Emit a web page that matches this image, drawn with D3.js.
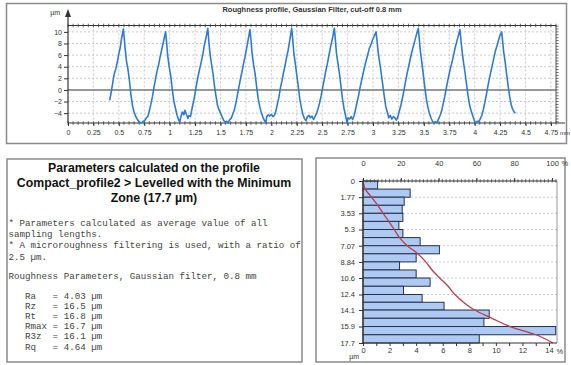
<!DOCTYPE html>
<html>
<head>
<meta charset="utf-8">
<script src="https://cdn.jsdelivr.net/npm/d3@7"></script>
<style>
    body { margin: 0; background: #fff; }
    svg text { font-family: "Liberation Sans", Arial, sans-serif; }
    .mono { font-family: "Liberation Mono", "Courier New", monospace; white-space: pre; }
</style>
</head>
<body>
<svg class="main-svg" width="571" height="365"></svg>
<script>
// ---- roughness profile (x in mm, z in µm)
const profile = [
    [0.41,-1.8],[0.425,-0.4],[0.44,1.2],[0.455,2.8],[0.47,3.6],[0.485,4.8],[0.5,6.2],[0.515,7.4],[0.528,9.0],[0.545,10.5],
    [0.56,7.5],[0.575,5.0],[0.59,3.5],[0.605,1.5],[0.62,-1.0],[0.635,-2.8],[0.65,-3.8],[0.665,-4.5],[0.68,-5.0],[0.695,-5.4],
    [0.71,-5.6],[0.725,-5.7],[0.74,-5.4],[0.755,-5.3],[0.77,-4.8],[0.785,-4.6],[0.8,-3.6],[0.815,-2.5],[0.83,-1.2],[0.845,0.4],
    [0.86,1.8],[0.875,3.2],[0.89,4.2],[0.905,5.6],[0.92,6.8],[0.935,8.0],[0.95,9.2],[0.96,10.0],
    [0.97,8.2],[0.98,6.0],[0.995,4.0],[1.01,2.5],[1.025,0.2],[1.04,-1.8],[1.055,-3.0],[1.07,-4.2],[1.085,-5.0],[1.1,-5.6],
    [1.11,-4.6],[1.125,-3.8],[1.14,-4.3],[1.15,-3.5],[1.165,-4.2],[1.18,-4.9],[1.19,-4.4],[1.205,-4.6],[1.22,-3.2],[1.235,-2.0],
    [1.25,-0.6],[1.265,1.0],[1.28,2.4],[1.295,3.6],[1.31,4.8],[1.325,6.0],[1.34,7.6],[1.355,8.8],[1.375,10.6],
    [1.385,8.5],[1.395,6.5],[1.41,4.6],[1.425,3.0],[1.44,0.8],[1.455,-1.0],[1.47,-2.6],[1.485,-3.4],[1.5,-4.0],[1.515,-4.6],
    [1.53,-5.2],[1.545,-5.6],[1.56,-5.4],[1.575,-5.7],[1.59,-5.1],[1.605,-4.9],[1.62,-4.2],[1.635,-3.5],[1.65,-2.4],[1.665,-1.0],
    [1.68,0.4],[1.695,1.8],[1.71,3.0],[1.725,4.4],[1.74,5.6],[1.755,7.0],[1.77,8.4],[1.79,10.4],
    [1.8,8.6],[1.81,6.4],[1.825,4.4],[1.84,2.8],[1.855,0.6],[1.87,-1.4],[1.885,-2.8],[1.9,-3.8],[1.915,-4.6],[1.93,-5.2],
    [1.945,-5.7],[1.955,-4.6],[1.97,-4.3],[1.985,-4.5],[2.0,-4.2],[2.015,-4.6],[2.03,-4.4],[2.045,-3.6],[2.06,-2.4],[2.075,-1.2],
    [2.09,0.4],[2.105,1.6],[2.12,3.0],[2.135,4.2],[2.15,5.6],[2.165,6.8],[2.18,8.4],[2.2,10.6],
    [2.21,8.8],[2.22,6.6],[2.235,4.6],[2.25,2.6],[2.265,0.6],[2.28,-1.6],[2.295,-3.0],[2.31,-4.2],[2.325,-4.9],[2.34,-5.3],
    [2.355,-4.6],[2.37,-4.4],[2.385,-4.8],[2.4,-4.5],[2.415,-5.1],[2.43,-4.6],[2.445,-4.0],[2.46,-3.2],[2.475,-2.2],[2.49,-1.0],
    [2.505,0.4],[2.52,1.8],[2.535,3.2],[2.55,4.4],[2.565,5.8],[2.58,7.2],[2.6,8.8],[2.62,10.6],
    [2.63,8.6],[2.64,6.4],[2.655,4.6],[2.67,2.8],[2.685,0.6],[2.7,-1.6],[2.715,-3.2],[2.73,-4.4],[2.745,-5.7],[2.755,-4.8],
    [2.77,-5.0],[2.785,-4.6],[2.8,-5.1],[2.815,-4.4],[2.83,-3.2],[2.845,-2.0],[2.86,-0.8],[2.875,0.6],[2.89,1.8],[2.905,3.0],
    [2.92,4.2],[2.935,5.2],[2.95,6.2],[2.965,7.2],[2.98,7.8],[2.995,8.6],[3.01,9.2],[3.03,10.0],
    [3.04,8.4],[3.05,6.6],[3.065,4.8],[3.08,3.0],[3.095,1.0],[3.11,-1.0],[3.125,-2.8],[3.14,-3.8],[3.155,-4.8],[3.17,-4.4],
    [3.185,-5.0],[3.2,-4.6],[3.215,-4.8],[3.23,-5.2],[3.245,-4.6],[3.26,-3.6],[3.275,-2.6],[3.29,-1.4],[3.305,0.0],[3.32,1.4],
    [3.335,2.8],[3.35,4.0],[3.365,5.2],[3.38,6.4],[3.395,7.4],[3.41,8.4],[3.425,9.4],[3.445,10.6],
    [3.455,8.8],[3.465,6.8],[3.48,4.8],[3.495,2.6],[3.51,0.4],[3.525,-1.6],[3.54,-3.0],[3.555,-4.0],[3.57,-4.8],[3.585,-5.4],
    [3.6,-5.7],[3.615,-5.5],[3.63,-5.6],[3.645,-5.0],[3.66,-4.4],[3.675,-3.6],[3.69,-2.4],[3.705,-1.2],[3.72,0.2],[3.735,1.6],
    [3.75,2.8],[3.765,4.0],[3.78,5.0],[3.795,6.2],[3.81,7.4],[3.825,8.4],[3.84,9.4],[3.855,10.4],
    [3.865,8.6],[3.875,6.8],[3.89,4.8],[3.905,3.0],[3.92,1.0],[3.935,-1.0],[3.95,-2.6],[3.965,-3.6],[3.98,-4.4],[3.995,-5.2],
    [4.01,-5.7],[4.025,-5.4],[4.04,-5.5],[4.055,-5.0],[4.07,-4.4],[4.085,-3.4],[4.1,-2.2],[4.115,-0.8],[4.13,0.6],[4.145,2.0],
    [4.16,3.2],[4.175,4.4],[4.19,5.6],[4.205,6.8],[4.22,7.6],[4.235,8.6],[4.25,9.4],[4.265,10.0],
    [4.275,8.4],[4.285,6.6],[4.3,4.8],[4.315,2.6],[4.33,0.6],[4.345,-1.2],[4.36,-2.6],[4.375,-3.4],[4.39,-3.8],[4.4,-4.0]
];
const profileXTicks = [0,0.25,0.5,0.75,1,1.25,1.5,1.75,2,2.25,2.5,2.75,3,3.25,3.5,3.75,4,4.25,4.5,4.75];
const profileYTicks = [-4,-2,0,2,4,6,8,10];

// ---- depth histogram + bearing curve
const depthEdges = [0,0.885,1.77,2.655,3.53,4.415,5.3,6.185,7.07,7.955,8.84,9.72,10.6,11.5,12.4,13.25,14.1,15.0,15.9,16.8,17.7];
const histPct = [1.1,3.55,3.1,2.95,3.0,2.7,3.0,4.3,5.75,4.0,2.75,4.0,5.05,3.05,4.45,6.1,9.5,9.1,14.5,8.75];
const bearingPct = [0,1.2,4.5,7.8,10.6,13.6,16.5,19.3,23.4,29.0,33.2,36.5,40.6,45.0,48.6,53.2,59.0,68.2,77.8,91.5,100.5];
const depthLabels = [0,1.77,3.53,5.3,7.07,8.84,10.6,12.4,14.1,15.9,17.7];
const histPctTicks = [0,2,4,6,8,10,12,14];
const bearingTicks = [0,20,40,60,80,100];

// ---- text panel
const titleLines = ["Parameters calculated on the profile",
    "Compact_profile2 > Levelled with the Minimum", "Zone (17.7 µm)"];
const noteLines = ["* Parameters calculated as average value of all", "sampling lengths.",
    "* A microroughness filtering is used, with a ratio of", "2.5 µm."];
const paramHeader = "Roughness Parameters, Gaussian filter, 0.8 mm";
const paramNames = ["Ra", "Rz", "Rt", "Rmax", "R3z", "Rq"];
const paramValues = ["4.03", "16.5", "16.8", "16.7", "16.1", "4.64"];

let svg = d3.select(".main-svg");

function styleAxis(g, size) {
    g.select(".domain").remove();
    g.selectAll("text")
        .attr("font-size", size)
        .attr("font-family", '"Liberation Sans", Arial, sans-serif')
        .attr("fill", "#333");
    g.selectAll(".tick line").attr("stroke", "#333");
}

// panel frames
svg.append("rect").attr("x", 6.5).attr("y", 3.5).attr("width", 560).attr("height", 140)
    .attr("fill", "none").attr("stroke", "#8a8a8a").attr("stroke-width", 1.5);
svg.append("rect").attr("x", 7).attr("y", 159).attr("width", 295).attr("height", 203)
    .attr("fill", "none").attr("stroke", "#8a8a8a").attr("stroke-width", 1.5);
svg.append("rect").attr("x", 316).attr("y", 158).attr("width", 249).attr("height", 204)
    .attr("fill", "none").attr("stroke", "#8a8a8a").attr("stroke-width", 1.5);

class profileChart {
    constructor(){
        this.initVis();
    }

    initVis(){
        let vis = this;
        vis.x = d3.scaleLinear().domain([0, 4.8]).range([68, 556]);
        vis.y = d3.scaleLinear().domain([-5.7, 11.1]).range([123, 25.5]);
        vis.g = svg.append("g");

        // grid
        vis.g.append("g").selectAll("line").data(profileXTicks.slice(1)).enter().append("line")
            .attr("x1", d => vis.x(d)).attr("x2", d => vis.x(d))
            .attr("y1", vis.y(11.1)).attr("y2", vis.y(-5.7))
            .attr("stroke", "#c9c9c9").attr("stroke-dasharray", "2,2");
        vis.g.append("g").selectAll("line").data(profileYTicks.filter(d => d !== 0)).enter().append("line")
            .attr("x1", vis.x(0)).attr("x2", vis.x(4.8))
            .attr("y1", d => vis.y(d)).attr("y2", d => vis.y(d))
            .attr("stroke", "#c9c9c9").attr("stroke-dasharray", "2,2");
        vis.g.append("line")
            .attr("x1", vis.x(0)).attr("x2", vis.x(4.8))
            .attr("y1", vis.y(0)).attr("y2", vis.y(0))
            .attr("stroke", "#777").attr("stroke-width", 1.5);

        // frame lines with minor ticks
        let minorX = d3.range(0, 4.8001, 0.05);
        let minorY = d3.range(-5.5, 11.01, 0.5);
        [11.1, -5.7].forEach(function (v) {
            vis.g.append("line").attr("x1", vis.x(0)).attr("x2", vis.x(4.8))
                .attr("y1", vis.y(v)).attr("y2", vis.y(v))
                .attr("stroke", "#333").attr("stroke-width", 1.2);
            vis.g.append("g").selectAll("line").data(minorX).enter().append("line")
                .attr("x1", d => vis.x(d)).attr("x2", d => vis.x(d))
                .attr("y1", vis.y(v) - 1.8).attr("y2", vis.y(v) + 1.8)
                .attr("stroke", "#444").attr("stroke-width", 0.8);
        });
        vis.g.append("line").attr("x1", vis.x(0)).attr("x2", vis.x(0))
            .attr("y1", 11).attr("y2", vis.y(-5.7)).attr("stroke", "#333").attr("stroke-width", 1.2);
        vis.g.append("path").attr("d", `M${vis.x(0) - 3},17 L${vis.x(0)},9 L${vis.x(0) + 3},17 Z`).attr("fill", "#333");
        vis.g.append("line").attr("x1", vis.x(4.8)).attr("x2", vis.x(4.8))
            .attr("y1", vis.y(11.1)).attr("y2", vis.y(-5.7)).attr("stroke", "#555").attr("stroke-width", 1);
        vis.g.append("g").selectAll("line").data(minorY).enter().append("line")
            .attr("x1", vis.x(4.8)).attr("x2", vis.x(4.8) + 2.5)
            .attr("y1", d => vis.y(d)).attr("y2", d => vis.y(d))
            .attr("stroke", "#444").attr("stroke-width", 0.8);
        vis.g.append("line").attr("x1", vis.x(4.8)).attr("x2", 565)
            .attr("y1", vis.y(-5.7)).attr("y2", vis.y(-5.7)).attr("stroke", "#333").attr("stroke-width", 1);

        // axes
        vis.g.append("g").attr("transform", `translate(0,${vis.y(-5.7)})`)
            .call(d3.axisBottom(vis.x).tickValues(profileXTicks).tickSize(3).tickPadding(4).tickFormat(d => String(d)))
            .call(g => styleAxis(g, 7));
        vis.g.append("g").attr("transform", `translate(${vis.x(0)},0)`)
            .call(d3.axisLeft(vis.y).tickValues(profileYTicks).tickSize(4).tickPadding(2))
            .call(g => styleAxis(g, 7));

        // labels
        vis.g.append("text").text("Roughness profile, Gaussian Filter, cut-off 0.8 mm")
            .attr("x", 312).attr("y", 12).attr("text-anchor", "middle")
            .attr("font-size", 7.5).attr("font-weight", "bold").attr("fill", "#333");
        vis.g.append("text").text("µm").attr("x", 60).attr("y", 15).attr("text-anchor", "end")
            .attr("font-size", 7).attr("fill", "#333");
        vis.g.append("text").text("mm").attr("x", 560).attr("y", 135)
            .attr("font-size", 6).attr("fill", "#333");

        // profile line
        vis.line = d3.line().x(d => vis.x(d[0])).y(d => vis.y(d[1]));
        vis.g.append("path").datum(profile)
            .attr("d", vis.line)
            .attr("fill", "none")
            .attr("stroke", "#2f7bd4")
            .attr("stroke-width", 1.6)
            .attr("stroke-linejoin", "round");
    }
}

class histChart {
    constructor(){
        this.initVis();
    }

    initVis(){
        let vis = this;
        vis.xPct = d3.scaleLinear().domain([0, 14.6]).range([363, 557]);
        vis.xCum = d3.scaleLinear().domain([0, 102.6]).range([363, 557]);
        vis.y = d3.scaleLinear().domain([0, 17.7]).range([181, 343]);
        vis.g = svg.append("g");

        // dashed grid at depth labels
        vis.g.append("g").selectAll("line").data(depthLabels.slice(1, -1)).enter().append("line")
            .attr("x1", vis.xPct(0)).attr("x2", vis.xPct(14.6))
            .attr("y1", d => vis.y(d)).attr("y2", d => vis.y(d))
            .attr("stroke", "#c9c9c9").attr("stroke-dasharray", "2,2");
        vis.g.append("line").attr("x1", vis.xPct(14.6)).attr("x2", vis.xPct(14.6))
            .attr("y1", vis.y(0)).attr("y2", vis.y(17.7)).attr("stroke", "#999");

        // bars
        vis.g.append("g").selectAll("rect").data(histPct).enter().append("rect")
            .attr("x", vis.xPct(0))
            .attr("y", (d, i) => vis.y(depthEdges[i]))
            .attr("width", d => vis.xPct(d) - vis.xPct(0))
            .attr("height", (d, i) => vis.y(depthEdges[i + 1]) - vis.y(depthEdges[i]))
            .attr("fill", "#aecaf2")
            .attr("stroke", "#23324f")
            .attr("stroke-width", 1);

        // bearing curve
        let curve = bearingPct.map((p, i) => ({p: p, d: depthEdges[i]}));
        vis.g.append("path").datum(curve)
            .attr("d", d3.line().x(d => vis.xCum(d.p)).y(d => vis.y(d.d)).curve(d3.curveMonotoneY))
            .attr("fill", "none").attr("stroke", "#c03a4e").attr("stroke-width", 1.3);

        // axis lines
        vis.g.append("line").attr("x1", vis.xPct(0)).attr("x2", vis.xPct(14.6))
            .attr("y1", vis.y(0)).attr("y2", vis.y(0)).attr("stroke", "#333").attr("stroke-width", 1.2);
        vis.g.append("line").attr("x1", vis.xPct(0)).attr("x2", vis.xPct(14.6))
            .attr("y1", vis.y(17.7)).attr("y2", vis.y(17.7)).attr("stroke", "#333").attr("stroke-width", 1.2);
        vis.g.append("line").attr("x1", vis.xPct(0)).attr("x2", vis.xPct(0))
            .attr("y1", vis.y(0)).attr("y2", vis.y(17.7)).attr("stroke", "#333").attr("stroke-width", 1.2);
        vis.g.append("g").selectAll("line").data(d3.range(0, 102.01, 2)).enter().append("line")
            .attr("x1", d => vis.xCum(d)).attr("x2", d => vis.xCum(d))
            .attr("y1", vis.y(0) - 1.8).attr("y2", vis.y(0) + 1.5)
            .attr("stroke", "#444").attr("stroke-width", 0.8);

        // axes
        vis.g.append("g").attr("transform", `translate(0,${vis.y(0)})`)
            .call(d3.axisTop(vis.xCum).tickValues(bearingTicks).tickSize(3).tickPadding(12))
            .call(g => styleAxis(g, 7.5));
        vis.g.append("g").attr("transform", `translate(0,${vis.y(17.7)})`)
            .call(d3.axisBottom(vis.xPct).tickValues(d3.range(0, 14.01, 1)).tickSize(3).tickPadding(2)
                .tickFormat(d => histPctTicks.includes(d) ? d : ""))
            .call(g => styleAxis(g, 7.5));
        vis.g.append("g").attr("transform", `translate(${vis.xPct(0)},0)`)
            .call(d3.axisLeft(vis.y).tickValues(depthLabels).tickSize(4).tickPadding(4).tickFormat(d => String(d)))
            .call(g => styleAxis(g, 7.5));

        vis.g.append("text").text("%").attr("x", vis.xCum(100) + 9.5).attr("y", 166)
            .attr("font-size", 7.5).attr("fill", "#333");
        vis.g.append("text").text("%").attr("x", vis.xPct(14) + 7.5).attr("y", 353.5)
            .attr("font-size", 7.5).attr("fill", "#333");
        vis.g.append("text").text("µm").attr("x", 359).attr("y", 359).attr("text-anchor", "end")
            .attr("font-size", 7).attr("fill", "#333");
    }
}

function textPanel() {
    let g = svg.append("g");
    g.selectAll(".title").data(titleLines).enter().append("text")
        .attr("class", "title")
        .text(d => d)
        .attr("x", 154).attr("y", (d, i) => 171.5 + i * 15)
        .attr("text-anchor", "middle")
        .attr("font-size", 12.3).attr("font-weight", "bold").attr("fill", "#111");
    g.selectAll(".note").data(noteLines).enter().append("text")
        .attr("class", "note mono")
        .text(d => d)
        .attr("x", 8.5).attr("y", (d, i) => 225.5 + i * 11.4)
        .attr("font-size", 9.2).attr("fill", "#444");
    g.append("text").attr("class", "mono").text(paramHeader)
        .attr("x", 8.5).attr("y", 279).attr("font-size", 9.2).attr("fill", "#444");
    g.selectAll(".param").data(paramNames).enter().append("text")
        .attr("class", "param mono")
        .text((d, i) => "   " + d.padEnd(5, " ") + "= " + paramValues[i] + " µm")
        .attr("x", 8.5).attr("y", (d, i) => 299 + i * 10.1)
        .attr("font-size", 9.2).attr("fill", "#444");
}

let main_profile = new profileChart();
let main_hist = new histChart();
textPanel();
</script>
</body>
</html>
